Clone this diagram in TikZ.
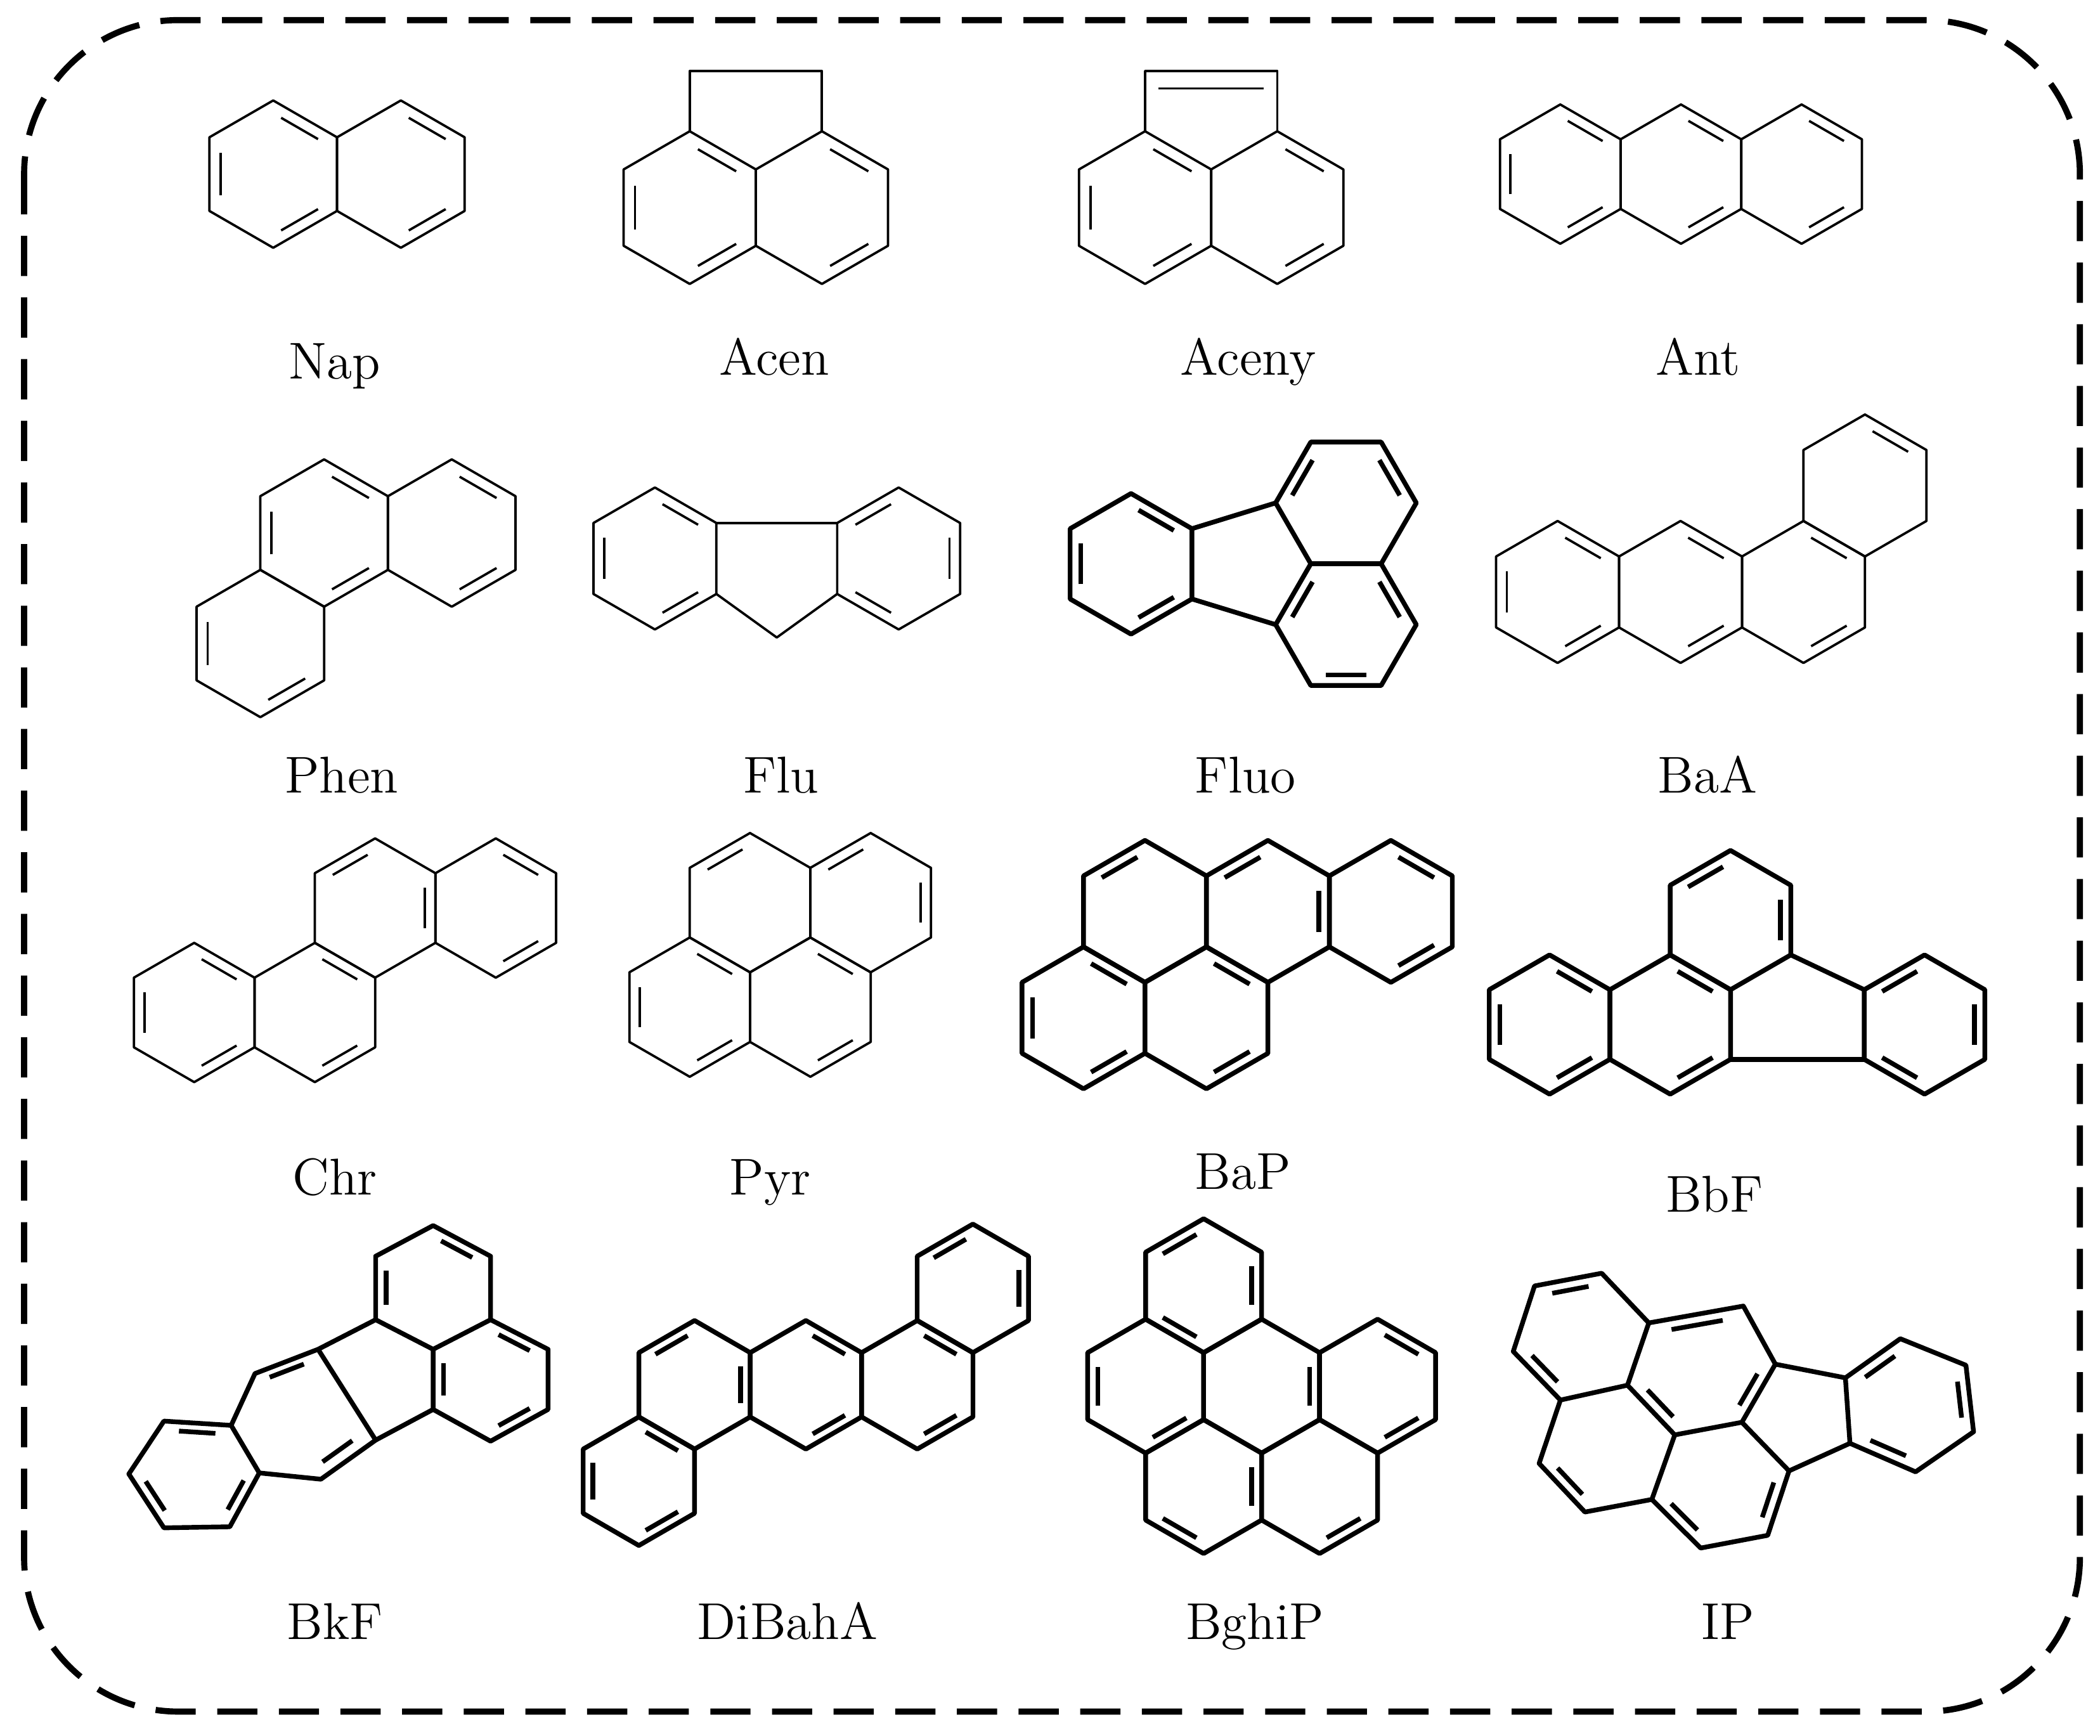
\documentclass[tikz,border=0pt]{standalone}
\usepackage{tikz}
\usetikzlibrary{calc}

% ring helpers
\newcommand{\setbond}[1]{\def\bondlen{#1}\pgfmathsetmacro\bondin{0.772*#1}}
\newcommand{\hexring}[4][0]{%
  \draw ([shift={(#2,#3)}]30+#1:\bondlen) \foreach \k in {1,...,5}{ -- ([shift={(#2,#3)}]30+60*\k+#1:\bondlen)} -- cycle;
  \foreach \d in {#4}{\draw ([shift={(#2,#3)}]\d-22:\bondin) -- ([shift={(#2,#3)}]\d+22:\bondin);}
}
\newcommand{\dbl}[3]{\draw ($(#1)!.17!(#2)!.18!(#3)$) -- ($(#2)!.17!(#1)!.18!(#3)$);}

\begin{document}
\begin{tikzpicture}[x=0.01cm,y=-0.01cm,
  thinmol/.style={line width=0.5pt,line join=round},
  thickmol/.style={line width=1pt,line join=round},
  lab/.style={font=\fontsize{11}{13}\selectfont,anchor=base},
  frame/.style={line width=1.3pt,dash pattern=on 0.3cm off 0.16cm,rounded corners=1.15cm}]
\useasboundingbox (0,0) rectangle (1568,1296);

% Frame
\draw[frame] (18,15) rectangle (1553,1278);

% Row 1
\begin{scope}[thinmol]
\setbond{55}
\hexring{204}{130}{180,300,60}
\hexring{299.3}{130}{300,60}
\setbond{57}
\hexring{515}{155}{180,300,60}
\hexring{613.7}{155}{300,60}
\draw (515,98) -- (515,53) -- (613.7,53) -- (613.7,98);
\hexring{855}{155}{180,300,60}
\hexring{953.7}{155}{300,60}
\draw (855,98) -- (855,53) -- (953.7,53) -- (953.7,98);
\draw (865,66) -- (943.7,66);
\setbond{52}
\hexring{1165}{130}{180,300,60}
\hexring{1255.1}{130}{300,60}
\hexring{1345.2}{130}{300,60}
\end{scope}
\node[lab] (lnap) at (250,283) {Nap};
\node[lab] (lacen) at (578,280) {Acen};
\node[lab] (laceny) at (932,280) {Aceny};
\node[lab] (lant) at (1268,280) {Ant};

% Row 2
\begin{scope}[thinmol]
\setbond{55}
\hexring{242}{398}{180,300,60}
\hexring{337.3}{398}{300,60}
\hexring{194.4}{480.5}{60,180}
\setbond{53}
\hexring{489}{417}{180,300,60}
\hexring{671}{417}{0,240,120}
\draw (534.9,390.5) -- (625.1,390.5);
\draw (534.9,443.5) -- (580,476) -- (625.1,443.5);
\hexring{1163}{442}{180,300,60}
\hexring{1254.8}{442}{300,60}
\hexring{1346.6}{442}{300,60}
\hexring{1392.5}{362.5}{300}
\end{scope}
\begin{scope}[thickmol]
\setbond{52.5}
\hexring[30]{1005}{375.5}{210,330}
\hexring[30]{1005}{466.4}{90,210,330}
\hexring{844.5}{421}{180,300,60}
\draw (890,394.75) -- (952.5,375.5);
\draw (890,447.25) -- (952.5,466.4);
\end{scope}
\node[lab] (lphen) at (255,592) {Phen};
\node[lab] (lflu) at (583,592) {Flu};
\node[lab] (lfluo) at (930,592) {Fluo};
\node[lab] (lbaa) at (1275,592) {BaA};

% Row 3
\begin{scope}[thinmol]
\setbond{52}
\hexring{145}{756}{180,300,60}
\hexring{235.1}{756}{60,300}
\hexring{280.1}{678}{240,0}
\hexring{370.2}{678}{300,60}
\hexring{515}{752}{180,300,60}
\hexring{605.1}{752}{300,60}
\hexring{560}{674}{240}
\hexring{650.1}{674}{240,0}
\end{scope}
\begin{scope}[thickmol]
\setbond{53}
\hexring{809}{760}{180,300,60}
\hexring{900.8}{760}{300,60}
\hexring{854.9}{680.5}{240}
\hexring{946.7}{680.5}{240,0}
\hexring{1038.5}{680.5}{300,60}
\setbond{52}
\hexring{1157}{765}{180,300,60}
\hexring{1247.1}{765}{300,60}
\hexring{1292.1}{687}{240,0}
\hexring{1437}{765}{0,120,240}
\draw (1337.1,713) -- (1392,739);
\draw (1292.1,791) -- (1392,791);
\end{scope}
\node[lab] (lchr) at (250,892) {Chr};
\node[lab] (lpyr) at (575,892) {Pyr};
\node[lab] (lbap) at (928,888) {BaP};
\node[lab] (lbbf) at (1280,905) {BbF};

% Row 4
\begin{scope}[thickmol]
% BkF
\path (323.4,915.1) coordinate (k1) (280.5,938) coordinate (k2) (366.3,938) coordinate (k3)
      (280.5,985.4) coordinate (k4) (366.3,985.4) coordinate (k5) (323.4,1007.5) coordinate (k6)
      (409.2,1007.5) coordinate (k7) (409.2,1052.4) coordinate (k8) (366.3,1076.1) coordinate (k9)
      (323.4,1052.4) coordinate (k10) (280.5,1075.3) coordinate (k11) (237.5,1007.5) coordinate (k12)
      (190.4,1025.6) coordinate (k13) (172.6,1064.3) coordinate (k14) (193.6,1099.8) coordinate (k15)
      (239.6,1104.5) coordinate (k16) (122.4,1061.1) coordinate (k17) (96.2,1100.6) coordinate (k18)
      (122.4,1140.8) coordinate (k19) (171.6,1140) coordinate (k20)
      (323.4,961) coordinate (kc1) (366.3,1030) coordinate (kc2) (215,1055) coordinate (kc3) (146,1100) coordinate (kc4);
\draw (k1) -- (k3) -- (k5) -- (k6) -- (k4) -- (k2) -- cycle;
\draw (k5) -- (k7) -- (k8) -- (k9) -- (k10) -- (k6);
\draw (k10) -- (k11) -- (k12) -- (k4);
\draw (k12) -- (k13) -- (k14) -- (k15) -- (k16) -- (k11);
\draw (k14) -- (k17) -- (k18) -- (k19) -- (k20) -- (k15);
\dbl{k2}{k4}{kc1} \dbl{k1}{k3}{kc1}
\dbl{k5}{k7}{kc2} \dbl{k8}{k9}{kc2} \dbl{k6}{k10}{kc2}
\dbl{k12}{k13}{kc3} \dbl{k16}{k11}{kc3}
\dbl{k17}{k14}{kc4} \dbl{k18}{k19}{kc4} \dbl{k20}{k15}{kc4}
% DiBahA
\setbond{48}
\hexring{477}{1106}{180,300,60}
\hexring{518.6}{1034}{240,0}
\hexring{601.7}{1034}{300,60}
\hexring{684.9}{1034}{300,60}
\hexring{726.4}{962}{240,0}
% BghiP
\setbond{50}
\hexring{942}{1035}{0}
\hexring{1028.6}{1035}{300,60}
\hexring{855.4}{1035}{180,60}
\hexring{985.3}{1110}{60}
\hexring{898.7}{1110}{120,0}
\hexring{898.7}{960}{240,0,120}
% IP
\path (1145.8,960.2) coordinate (pa) (1195.9,950.7) coordinate (pb) (1231.1,987.8) coordinate (pc)
      (1215.2,1034.3) coordinate (pd) (1165.1,1045.4) coordinate (pe) (1129.9,1009.1) coordinate (pf)
      (1301.7,975.2) coordinate (pg) (1325.6,1018.6) coordinate (ph) (1300.6,1062) coordinate (pi)
      (1250.5,1071.4) coordinate (pj) (1233.4,1119.6) coordinate (pk) (1183.4,1129) coordinate (pl)
      (1149.2,1092.7) coordinate (pm) (1335.8,1098.3) coordinate (pn) (1319.9,1146.4) coordinate (po)
      (1269.8,1155.9) coordinate (pp) (1377.9,1028.8) coordinate (pq) (1381.3,1077.7) coordinate (pr)
      (1418.9,999.6) coordinate (ps) (1467.9,1019.4) coordinate (pt) (1473.6,1069.1) coordinate (pu)
      (1430.3,1099) coordinate (pv)
      (1180.5,997.9) coordinate (pc1) (1270.8,1024.9) coordinate (pc2) (1199.5,1083.7) coordinate (pc3)
      (1285,1108.9) coordinate (pc4) (1428.3,1048.9) coordinate (pc5);
\draw (pa) -- (pb) -- (pc) -- (pd) -- (pe) -- (pf) -- cycle;
\draw (pc) -- (pg) -- (ph) -- (pi) -- (pj) -- (pd);
\draw (pj) -- (pk) -- (pl) -- (pm) -- (pe);
\draw (pi) -- (pn) -- (po) -- (pp) -- (pk);
\draw (ph) -- (pq) -- (pr) -- (pn);
\draw (pq) -- (ps) -- (pt) -- (pu) -- (pv) -- (pr);
\dbl{pa}{pb}{pc1} \dbl{pf}{pe}{pc1}
\dbl{pc}{pg}{pc2} \dbl{ph}{pi}{pc2} \dbl{pd}{pj}{pc2}
\dbl{pm}{pl}{pc3}
\dbl{pk}{pp}{pc4} \dbl{pn}{po}{pc4}
\dbl{pq}{ps}{pc5} \dbl{pt}{pu}{pc5} \dbl{pv}{pr}{pc5}
\end{scope}
\node[lab] (lbkf) at (250,1224) {BkF};
\node[lab] (ldibaha) at (588,1224) {DiBahA};
\node[lab] (lbghip) at (937,1224) {BghiP};
\node[lab] (lip) at (1290,1224) {IP};
\end{tikzpicture}
\end{document}
